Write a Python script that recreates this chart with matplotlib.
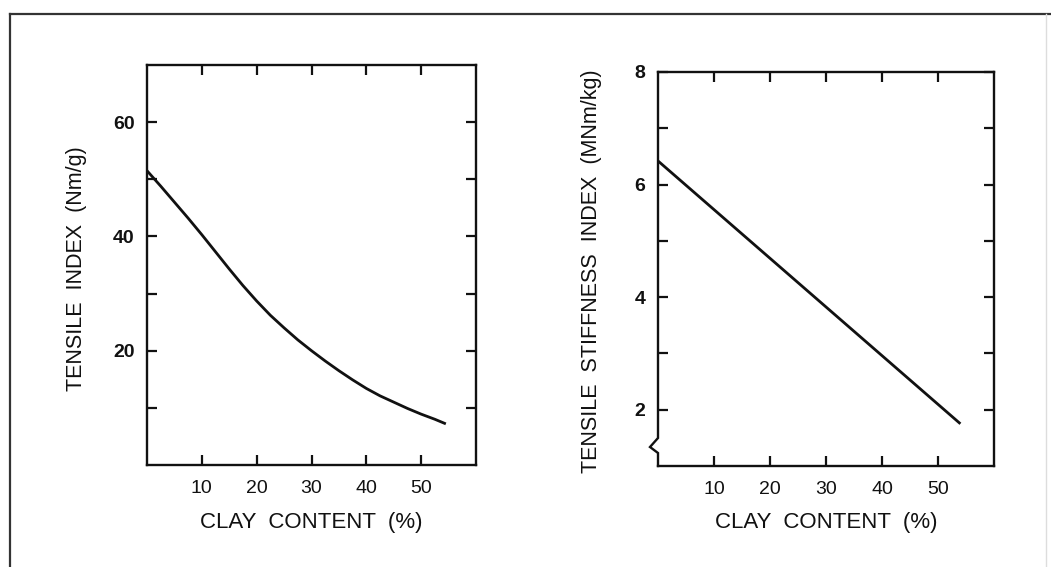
import matplotlib
matplotlib.use("Agg")
import matplotlib.pyplot as plt
from matplotlib.lines import Line2D

plt.rcParams['font.family'] = ['Liberation Sans', 'DejaVu Sans']

# ---- data ----
clay_left = [0, 2.5, 5, 7.5, 10, 12.5, 15, 17.5, 20, 22.5, 25, 27.5,
             30, 32.5, 35, 37.5, 40, 42.5, 45, 47.5, 50, 52.5, 54.5]
tensile_index = [51.5, 48.8, 46.0, 43.2, 40.3, 37.3, 34.3, 31.4, 28.7, 26.2, 24.0, 21.9,
                 20.0, 18.2, 16.5, 14.9, 13.4, 12.1, 11.0, 9.9, 8.9, 8.0, 7.2]

clay_right = [0, 54]
stiffness_index = [6.42, 1.75]

x_ticks = [10, 20, 30, 40, 50]
left_yticks = [20, 40, 60]
left_yminor = [10, 30, 50]
right_yticks = [2, 4, 6, 8]
right_yminor = [3, 5, 7]

xlabel = "CLAY  CONTENT  (%)"
left_ylabel = "TENSILE  INDEX  (Nm/g)"
right_ylabel = "TENSILE  STIFFNESS  INDEX  (MNm/kg)"

W, H = 1051, 567
fig = plt.figure(figsize=(W / 100, H / 100), dpi=100)
fig.patch.set_facecolor('white')

def fx(px):
    return px / W

def fy(py):
    return 1 - py / H

ink = '#111111'

axL = fig.add_axes([fx(147), fy(465), fx(476) - fx(147), fy(65) - fy(465)])
axR = fig.add_axes([fx(658), fy(466), fx(994) - fx(658), fy(72) - fy(466)])

for ax in (axL, axR):
    for s in ax.spines.values():
        s.set_linewidth(1.7)
        s.set_color(ink)
    ax.set_xlim(0, 60)
    ax.set_xticks(x_ticks)
    ax.tick_params(axis='both', which='both', direction='in', length=7.5, width=1.6,
                   top=True, right=True, color=ink)
    ax.tick_params(axis='x', labelsize=14, pad=11, labelcolor=ink)
    ax.tick_params(axis='y', labelsize=14, pad=9, labelcolor=ink)
    ax.set_xlabel(xlabel, fontsize=16, color=ink)

# left panel
axL.set_ylim(0, 70)
axL.set_yticks(left_yticks)
axL.set_yticks(left_yminor, minor=True)
axL.plot(clay_left, tensile_index, color=ink, lw=2.0, solid_capstyle='butt')
axL.set_ylabel(left_ylabel, fontsize=15.5, color=ink)
axL.yaxis.set_label_coords(-0.182, 0.49)
axL.xaxis.set_label_coords(0.5, -0.118)
for lab in axL.get_yticklabels():
    lab.set_fontweight('bold')

# right panel
axR.set_ylim(1, 8)
axR.set_yticks(right_yticks)
axR.set_yticks(right_yminor, minor=True)
axR.plot(clay_right, stiffness_index, color=ink, lw=2.0, solid_capstyle='butt')
axR.set_ylabel(right_ylabel, fontsize=15.5, color=ink)
axR.yaxis.set_label_coords(-0.167, 0.495)
axR.xaxis.set_label_coords(0.5, -0.117)
for lab in axR.get_yticklabels():
    lab.set_fontweight('bold')

# axis break on right panel's left spine
axR.spines['left'].set_visible(False)
hpx = 466 - 72
wpx = 994 - 658
def ay(py):
    return (466 - py) / hpx
def axf(dx):
    return dx / wpx
brk = Line2D([0, 0, axf(-8), 0, 0],
             [1, ay(438), ay(447), ay(453), 0],
             transform=axR.transAxes, color=ink, lw=1.7, clip_on=False,
             solid_joinstyle='miter')
axR.add_line(brk)

# outer frame (top, left, faint right)
fig.add_artist(Line2D([fx(10), fx(1051)], [fy(14), fy(14)], color='#333333', lw=1.6))
fig.add_artist(Line2D([fx(10), fx(10)], [fy(14), fy(567)], color='#333333', lw=1.6))
fig.add_artist(Line2D([fx(1046), fx(1046)], [fy(14), fy(567)], color='#dddddd', lw=1.0))

fig.savefig("out.png", dpi=100, facecolor='white')
